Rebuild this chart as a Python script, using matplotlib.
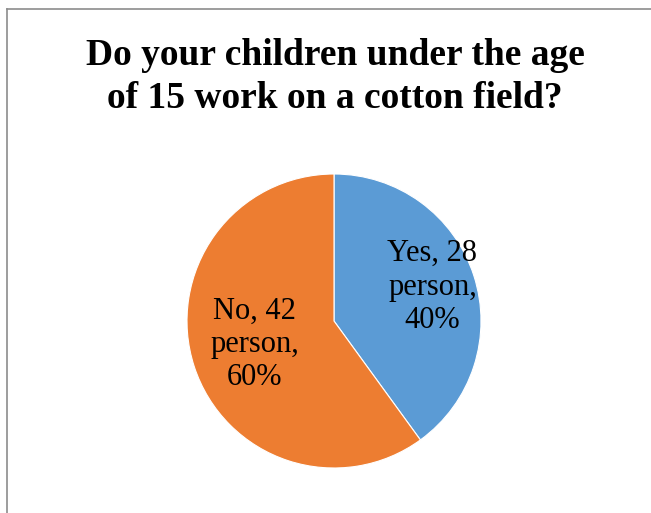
import matplotlib.pyplot as plt
from matplotlib.lines import Line2D

# survey answers
answers = ["Yes", "No"]
counts = [28, 42]
colors = ["#5B9BD5", "#ED7D31"]

W, H = 651, 513
fig = plt.figure(figsize=(W / 100, H / 100), dpi=100)
plt.rcParams['font.family'] = ['Liberation Serif', 'DejaVu Serif']

# chart frame (only top and left edge visible)
fig.add_artist(Line2D([7 / W, 1], [1 - 9 / H, 1 - 9 / H], color="#8c8c8c", lw=1.2))
fig.add_artist(Line2D([7 / W, 7 / W], [0, 1 - 9 / H], color="#8c8c8c", lw=1.2))

fig.text(335 / W, 1 - 77 / H, "Do your children under the age\nof 15 work on a cotton field?",
         ha="center", va="center", fontsize=27, fontweight="bold", linespacing=1.32)

# pie axes: centre (334, 321), radius 147 px
r = 147
cx, cy = 334, 321
ax = fig.add_axes([(cx - r) / W, 1 - (cy + r) / H, 2 * r / W, 2 * r / H])
ax.pie(counts, colors=colors, startangle=90, counterclock=False,
       wedgeprops=dict(edgecolor="white", linewidth=0.8))
ax.set_xlim(-1, 1)
ax.set_ylim(-1, 1)
ax.set_aspect("equal")

total = sum(counts)
label_pos = [(0.67, 0.23), (-0.54, -0.16)]
for ans, n, (x, y) in zip(answers, counts, label_pos):
    pct = round(100 * n / total)
    ax.text(x, y, f"{ans}, {n}\nperson,\n{pct}%", ha="center", va="center",
            fontsize=22, linespacing=1.2)

fig.savefig("out.png", dpi=100)
